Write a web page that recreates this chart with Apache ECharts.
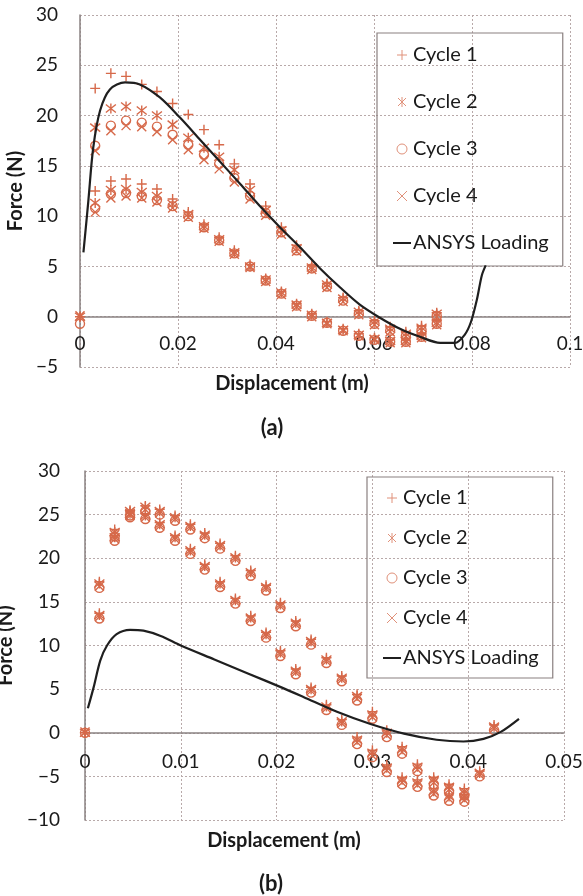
<!DOCTYPE html>
<html>
<head>
<meta charset="utf-8">
<script src="https://cdn.jsdelivr.net/npm/echarts@6/dist/echarts.min.js"></script>
<style>html,body{margin:0;padding:0;background:#fff;}#c{width:583px;height:896px;}</style>
</head>
<body>
<div id="c"></div>
<script>
// ---------- Chart (a) ----------
const xA_up = [0, 0.0031, 0.0063, 0.0094, 0.0126, 0.0157, 0.0189, 0.0221, 0.0253, 0.0284, 0.0315, 0.0347, 0.0379, 0.0411, 0.0442, 0.0473, 0.0504, 0.0537, 0.0569, 0.0601, 0.0633, 0.0665, 0.0697, 0.0728];
const c1A_up = [0, 22.7, 24.2, 23.9, 23.1, 22.4, 21.2, 20.1, 18.6, 17.1, 15.2, 13.2, 11.0, 8.9, 7.1, 5.1, 3.3, 1.9, 0.6, -0.4, -1.0, -1.5, -0.9, 0.4];
const c2A_up = [0, 18.8, 20.7, 20.9, 20.5, 20.0, 19.1, 17.8, 16.8, 15.9, 14.6, 12.6, 10.6, 8.6, 6.8, 4.9, 3.2, 1.8, 0.5, -0.5, -1.2, -1.7, -1.1, 0.3];
const c3A_up = [-0.7, 17.0, 19.0, 19.5, 19.3, 18.9, 18.1, 17.1, 16.1, 15.2, 13.8, 12.0, 10.3, 8.4, 6.6, 4.8, 3.0, 1.6, 0.3, -0.7, -1.4, -1.9, -1.3, 0.1];
const c4A_up = [0.1, 16.5, 18.5, 19.0, 18.9, 18.4, 17.6, 16.6, 15.6, 14.7, 13.4, 11.7, 10.1, 8.2, 6.5, 4.7, 2.9, 1.5, 0.2, -0.8, -1.5, -2.0, -1.4, 0.0];
const xA_lo = [0.0031, 0.0063, 0.0094, 0.0126, 0.0157, 0.0189, 0.0221, 0.0253, 0.0284, 0.0315, 0.0347, 0.0379, 0.0411, 0.0442, 0.0473, 0.0504, 0.0537, 0.0569, 0.0601, 0.0633, 0.0665, 0.0697, 0.0728];
const c1A_lo = [12.5, 13.5, 13.7, 13.2, 12.7, 11.7, 10.4, 9.2, 7.9, 6.6, 5.2, 3.8, 2.5, 1.3, 0.3, -0.5, -1.2, -1.7, -2.1, -2.3, -2.2, -1.7, -0.4];
const c2A_lo = [11.3, 12.6, 12.7, 12.4, 12.0, 11.2, 10.2, 9.0, 7.7, 6.4, 5.0, 3.7, 2.4, 1.2, 0.2, -0.6, -1.3, -1.8, -2.2, -2.4, -2.4, -1.9, -0.6];
const c3A_lo = [10.8, 12.2, 12.3, 12.0, 11.6, 11.0, 10.0, 8.9, 7.6, 6.3, 5.0, 3.6, 2.3, 1.1, 0.1, -0.6, -1.4, -1.9, -2.3, -2.5, -2.5, -2.0, -0.7];
const c4A_lo = [10.4, 11.8, 12.0, 11.8, 11.4, 10.8, 9.9, 8.8, 7.5, 6.2, 4.9, 3.5, 2.2, 1.0, 0.0, -0.7, -1.4, -1.9, -2.3, -2.6, -2.6, -2.1, -0.8];
const ansA_x = [0.0007, 0.0017, 0.0027, 0.0041, 0.0061, 0.0092, 0.0122, 0.0163, 0.0204, 0.0245, 0.0286, 0.0327, 0.0367, 0.0408, 0.0449, 0.049, 0.0531, 0.0571, 0.0612, 0.0653, 0.0694, 0.0735, 0.0765, 0.0785, 0.0798, 0.081, 0.082, 0.0828];
const ansA_y = [6.4, 11.5, 16.8, 20.5, 22.6, 23.3, 23.1, 21.8, 19.8, 17.6, 15.4, 13.2, 11.0, 8.9, 6.9, 4.8, 2.9, 1.2, -0.1, -1.2, -2.0, -2.6, -2.6, -1.8, -0.5, 1.7, 4.1, 5.1];

// ---------- Chart (b) ----------
const xB_up = [0, 0.0015, 0.0031, 0.0047, 0.0063, 0.0078, 0.0094, 0.011, 0.0125, 0.0141, 0.0157, 0.0173, 0.0189, 0.0204, 0.022, 0.0236, 0.0252, 0.0268, 0.0284, 0.03, 0.0315, 0.0331, 0.0347, 0.0364, 0.038, 0.0396, 0.0412, 0.0427];
const c1B_up = [0, 17.3, 23.3, 25.5, 26.0, 25.6, 24.9, 23.9, 22.9, 21.7, 20.3, 18.6, 16.9, 14.9, 12.8, 10.7, 8.6, 6.5, 4.4, 2.4, 0.3, -1.6, -3.6, -5.1, -5.9, -6.4, -4.4, 0.9];
const c2B_up = [0, 17.1, 23.0, 25.4, 25.9, 25.4, 24.7, 23.7, 22.7, 21.5, 20.1, 18.4, 16.7, 14.7, 12.6, 10.5, 8.4, 6.3, 4.2, 2.1, 0.0, -1.9, -3.9, -5.4, -6.2, -6.7, -4.6, 0.7];
const c3B_up = [0, 16.6, 22.5, 24.9, 25.4, 25.0, 24.3, 23.3, 22.3, 21.1, 19.7, 18.0, 16.3, 14.3, 12.2, 10.1, 8.0, 5.9, 3.7, 1.6, -0.5, -2.4, -4.4, -5.9, -6.7, -7.2, -5.0, 0.3];
const c4B_up = [0.1, 16.8, 22.7, 25.1, 25.6, 25.2, 24.5, 23.5, 22.5, 21.3, 19.9, 18.2, 16.5, 14.5, 12.4, 10.3, 8.2, 6.1, 3.9, 1.8, -0.3, -2.2, -4.2, -5.7, -6.5, -7.0, -4.8, 0.5];
const xB_lo = [0.0015, 0.0031, 0.0047, 0.0063, 0.0078, 0.0094, 0.011, 0.0125, 0.0141, 0.0157, 0.0173, 0.0189, 0.0204, 0.022, 0.0236, 0.0252, 0.0268, 0.0284, 0.03, 0.0315, 0.0331, 0.0347, 0.0364, 0.038, 0.0396];
const c1B_lo = [13.7, 22.6, 25.3, 25.1, 24.1, 22.6, 21.1, 19.3, 17.3, 15.4, 13.4, 11.5, 9.4, 7.3, 5.2, 3.2, 1.5, -0.5, -2.0, -3.7, -5.1, -5.4, -6.4, -7.0, -7.1];
const c2B_lo = [13.5, 22.4, 25.1, 24.9, 23.9, 22.4, 20.9, 19.1, 17.1, 15.2, 13.2, 11.3, 9.2, 7.1, 5.0, 3.0, 1.3, -0.8, -2.3, -4.0, -5.4, -5.7, -6.7, -7.3, -7.4];
const c3B_lo = [13.1, 22.0, 24.7, 24.5, 23.5, 22.0, 20.5, 18.7, 16.7, 14.8, 12.8, 10.9, 8.8, 6.7, 4.6, 2.6, 0.9, -1.3, -2.8, -4.5, -5.9, -6.2, -7.2, -7.8, -7.9];
const c4B_lo = [13.3, 22.2, 24.9, 24.7, 23.7, 22.2, 20.7, 18.9, 16.9, 15.0, 13.0, 11.1, 9.0, 6.9, 4.8, 2.8, 1.1, -1.1, -2.6, -4.3, -5.7, -6.0, -7.0, -7.6, -7.7];
const ansB_x = [0.0003, 0.0009, 0.0016, 0.0023, 0.0033, 0.0047, 0.0061, 0.0079, 0.01, 0.0135, 0.017, 0.0205, 0.0228, 0.0263, 0.0298, 0.0333, 0.0367, 0.0395, 0.0416, 0.0434, 0.0453];
const ansB_y = [2.8, 5.2, 8.3, 10.0, 11.3, 11.8, 11.7, 11.1, 10.0, 8.4, 6.8, 5.2, 4.1, 2.4, 1.0, -0.1, -0.8, -1.0, -0.7, 0.1, 1.6];

const seriesNames = ['Cycle 1', 'Cycle 2', 'Cycle 3', 'Cycle 4', 'ANSYS Loading'];
const yTicksA = [-5, 30, 5];
const yTicksB = [-10, 30, 5];
const xTicksA = [0, 0.1, 0.02];
const xTicksB = [0, 0.05, 0.01];

// ---------- styles ----------
const MK = '#d6694a';
const FONT = 'Lato, "Open Sans", sans-serif';
const symbols = [
  'path://M5,0L5,10M0,5L10,5',
  'path://M5,0L5,10M1,1L9,9M1,9L9,1',
  'path://M10,5A5,5,0,1,1,0,5A5,5,0,1,1,10,5Z',
  'path://M1,1L9,9M1,9L9,1'
];
const symSizes = [10, 10, 9, 9];
const lineIcon = 'path://M0,0L18,0L18,2L0,2Z';
function pairs(xs, ys) { return xs.map((x, i) => [x, ys[i]]); }

const cyclesA = [
  pairs(xA_up, c1A_up).concat(pairs(xA_lo, c1A_lo)),
  pairs(xA_up, c2A_up).concat(pairs(xA_lo, c2A_lo)),
  pairs(xA_up, c3A_up).concat(pairs(xA_lo, c3A_lo)),
  pairs(xA_up, c4A_up).concat(pairs(xA_lo, c4A_lo))
];
const cyclesB = [
  pairs(xB_up, c1B_up).concat(pairs(xB_lo, c1B_lo)),
  pairs(xB_up, c2B_up).concat(pairs(xB_lo, c2B_lo)),
  pairs(xB_up, c3B_up).concat(pairs(xB_lo, c3B_lo)),
  pairs(xB_up, c4B_up).concat(pairs(xB_lo, c4B_lo))
];

function scatterSeries(data, i, gi) {
  return {
    name: seriesNames[i], type: 'scatter', xAxisIndex: gi, yAxisIndex: gi,
    data: data, symbol: symbols[i], symbolSize: symSizes[i],
    itemStyle: { color: 'transparent', borderColor: MK, borderWidth: 1.4, opacity: 1 },
    emphasis: { disabled: true }, z: 3
  };
}
function lineSeries(xs, ys, gi) {
  return {
    name: seriesNames[4], type: 'line', xAxisIndex: gi, yAxisIndex: gi,
    data: pairs(xs, ys), smooth: 0.3, symbol: 'none',
    lineStyle: { color: '#1f1f1f', width: 2.2 }, itemStyle: { color: '#1f1f1f' }, z: 4
  };
}

const series = [];
cyclesA.forEach((d, i) => series.push(scatterSeries(d, i, 0)));
series.push(lineSeries(ansA_x, ansA_y, 0));
cyclesB.forEach((d, i) => series.push(scatterSeries(d, i, 1)));
series.push(lineSeries(ansB_x, ansB_y, 1));

function legendData() {
  return seriesNames.map((n, i) => i < 4 ? {
    name: n, icon: symbols[i],
    itemStyle: { color: 'transparent', borderColor: '#e0917a', borderWidth: 1 }
  } : {
    name: n, icon: lineIcon,
    itemStyle: { color: '#1f1f1f', borderWidth: 0 }
  });
}
function makeLegend(left, top, gap, pad) {
  return {
    orient: 'vertical', left: left, top: top, data: legendData(),
    itemWidth: 18, itemHeight: 10, itemGap: gap, padding: pad,
    borderColor: '#8a8080', borderWidth: 1.2, backgroundColor: 'transparent',
    textStyle: { fontFamily: FONT, fontSize: 20, color: '#1a1a1a', padding: [0, 0, 0, -3] },
    selectedMode: false, inactiveColor: '#1a1a1a'
  };
}

const negFmt = v => (v < 0 ? '\u2212' + Math.abs(v) : String(v));
// grid geometry (plot areas)
const gridA = { left: 80, top: 15, width: 490, height: 352 };
const gridB = { left: 85, top: 471, width: 479, height: 349 };
// distance (px) from the plot bottom up to the zero line, so the x axis sits on y = 0
const zeroOffA = gridA.height * (0 - yTicksA[0]) / (yTicksA[1] - yTicksA[0]);
const zeroOffB = gridB.height * (0 - yTicksB[0]) / (yTicksB[1] - yTicksB[0]);

function xAxis(gi, t, margin, off) {
  return {
    type: 'value', gridIndex: gi, min: t[0], max: t[1], interval: t[2],
    position: 'bottom', offset: -off,
    axisLine: { show: true, onZero: false, lineStyle: { color: '#8a8282', width: 1.5 } },
    axisTick: { show: false },
    axisLabel: { fontFamily: FONT, fontSize: 19, color: '#1a1a1a', margin: margin },
    splitLine: { show: true, lineStyle: { color: '#b8a9a9', type: [2, 2], width: 1 } }
  };
}
function yAxis(gi, t, margin, gap) {
  return {
    type: 'value', gridIndex: gi, min: t[0], max: t[1], interval: t[2],
    name: 'Force (N)', nameLocation: 'middle', nameGap: gap,
    nameTextStyle: { fontFamily: FONT, fontSize: 20, fontWeight: 'bold', color: '#1a1a1a' },
    axisLine: { show: true, onZero: false, lineStyle: { color: '#8a8282', width: 1.5 } },
    axisTick: { show: false },
    axisLabel: { fontFamily: FONT, fontSize: 19, color: '#1a1a1a', margin: margin, formatter: negFmt },
    splitLine: { show: true, lineStyle: { color: '#b8a9a9', type: [2, 2], width: 1 } }
  };
}

const titleStyle = { fontFamily: FONT, fontSize: 20, fontWeight: 'bold', fill: '#1a1a1a', align: 'center', verticalAlign: 'middle' };
const labelStyle = { fontFamily: FONT, fontSize: 22, fontWeight: 'bold', fill: '#1a1a1a', align: 'center', verticalAlign: 'middle' };

const chart = echarts.init(document.getElementById('c'), null, { renderer: 'canvas' });
chart.setOption({
  backgroundColor: '#ffffff',
  animation: false,
  grid: [
    Object.assign({ containLabel: false, outerBoundsMode: 'none' }, gridA),
    Object.assign({ containLabel: false, outerBoundsMode: 'none' }, gridB)
  ],
  xAxis: [xAxis(0, xTicksA, 18, zeroOffA), xAxis(1, xTicksB, 20, zeroOffB)],
  yAxis: [yAxis(0, yTicksA, 22, 49), yAxis(1, yTicksB, 25, 54)],
  legend: [makeLegend(377, 33, 27, [12, 14, 13, 16]), makeLegend(367, 477, 20, [11, 14, 10, 16])],
  graphic: [
    { type: 'text', style: Object.assign({ text: 'Displacement (m)', x: 292, y: 384 }, titleStyle) },
    { type: 'text', style: Object.assign({ text: '(a)', x: 272, y: 428 }, labelStyle) },
    { type: 'text', style: Object.assign({ text: 'Displacement (m)', x: 284, y: 841 }, titleStyle) },
    { type: 'text', style: Object.assign({ text: '(b)', x: 271, y: 884 }, labelStyle) }
  ],
  series: series
});
</script>
</body>
</html>
